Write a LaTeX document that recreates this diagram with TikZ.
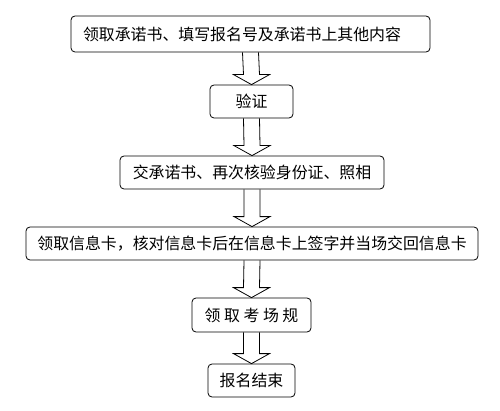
\documentclass[tikz,border=0pt]{standalone}
\usepackage{fontspec}
\setmainfont{Noto Sans CJK SC}
\usetikzlibrary{calc}

\begin{document}
\begin{tikzpicture}[
  x=1pt, y=1pt,
  font=\fontsize{15.9}{18}\selectfont,
  box/.style={draw, line width=0.8pt, rounded corners=4pt, minimum height=33pt, inner xsep=0pt, inner ysep=0pt, align=center},
  blk/.style={draw, line width=0.8pt, to path={
    ($(\tikztostart.south)+(-8,0)$) -- ($(\tikztotarget.north)+(-8,10)$) -- ($(\tikztotarget.north)+(-18,10)$)
    -- (\tikztotarget.north) -- ($(\tikztotarget.north)+(18,10)$) -- ($(\tikztotarget.north)+(8,10)$) -- ($(\tikztostart.south)+(8,0)$)}},
]
\useasboundingbox (0,0) rectangle (500,410);
\node[box, minimum height=36pt, text width=335pt, align=left, inner xsep=12pt] (form) at (250.5,376) {领取承诺书、填写报名号及承诺书上其他内容};
\node[box, minimum width=83pt] (check) at (251.5,308.5) {验证};
\node[box, minimum width=264pt] (photo) at (252,237.5) {交承诺书、再次核验身份证、照相};
\node[box, minimum width=452pt] (card) at (252,166.5) {领取信息卡，核对信息卡后在信息卡上签字并当场交回信息卡};
\node[box, minimum width=119pt, minimum height=34pt] (rules) at (251.5,95) {领 取 考 场 规};
\node[box, minimum width=87pt] (done) at (251.5,29.5) {报名结束};
\draw[blk] (form) to (check);
\draw[blk] (check) to (photo);
\draw[blk] (photo) to (card);
\draw[blk] (card) to (rules);
\draw[blk] (rules) to (done);
\end{tikzpicture}
\end{document}
